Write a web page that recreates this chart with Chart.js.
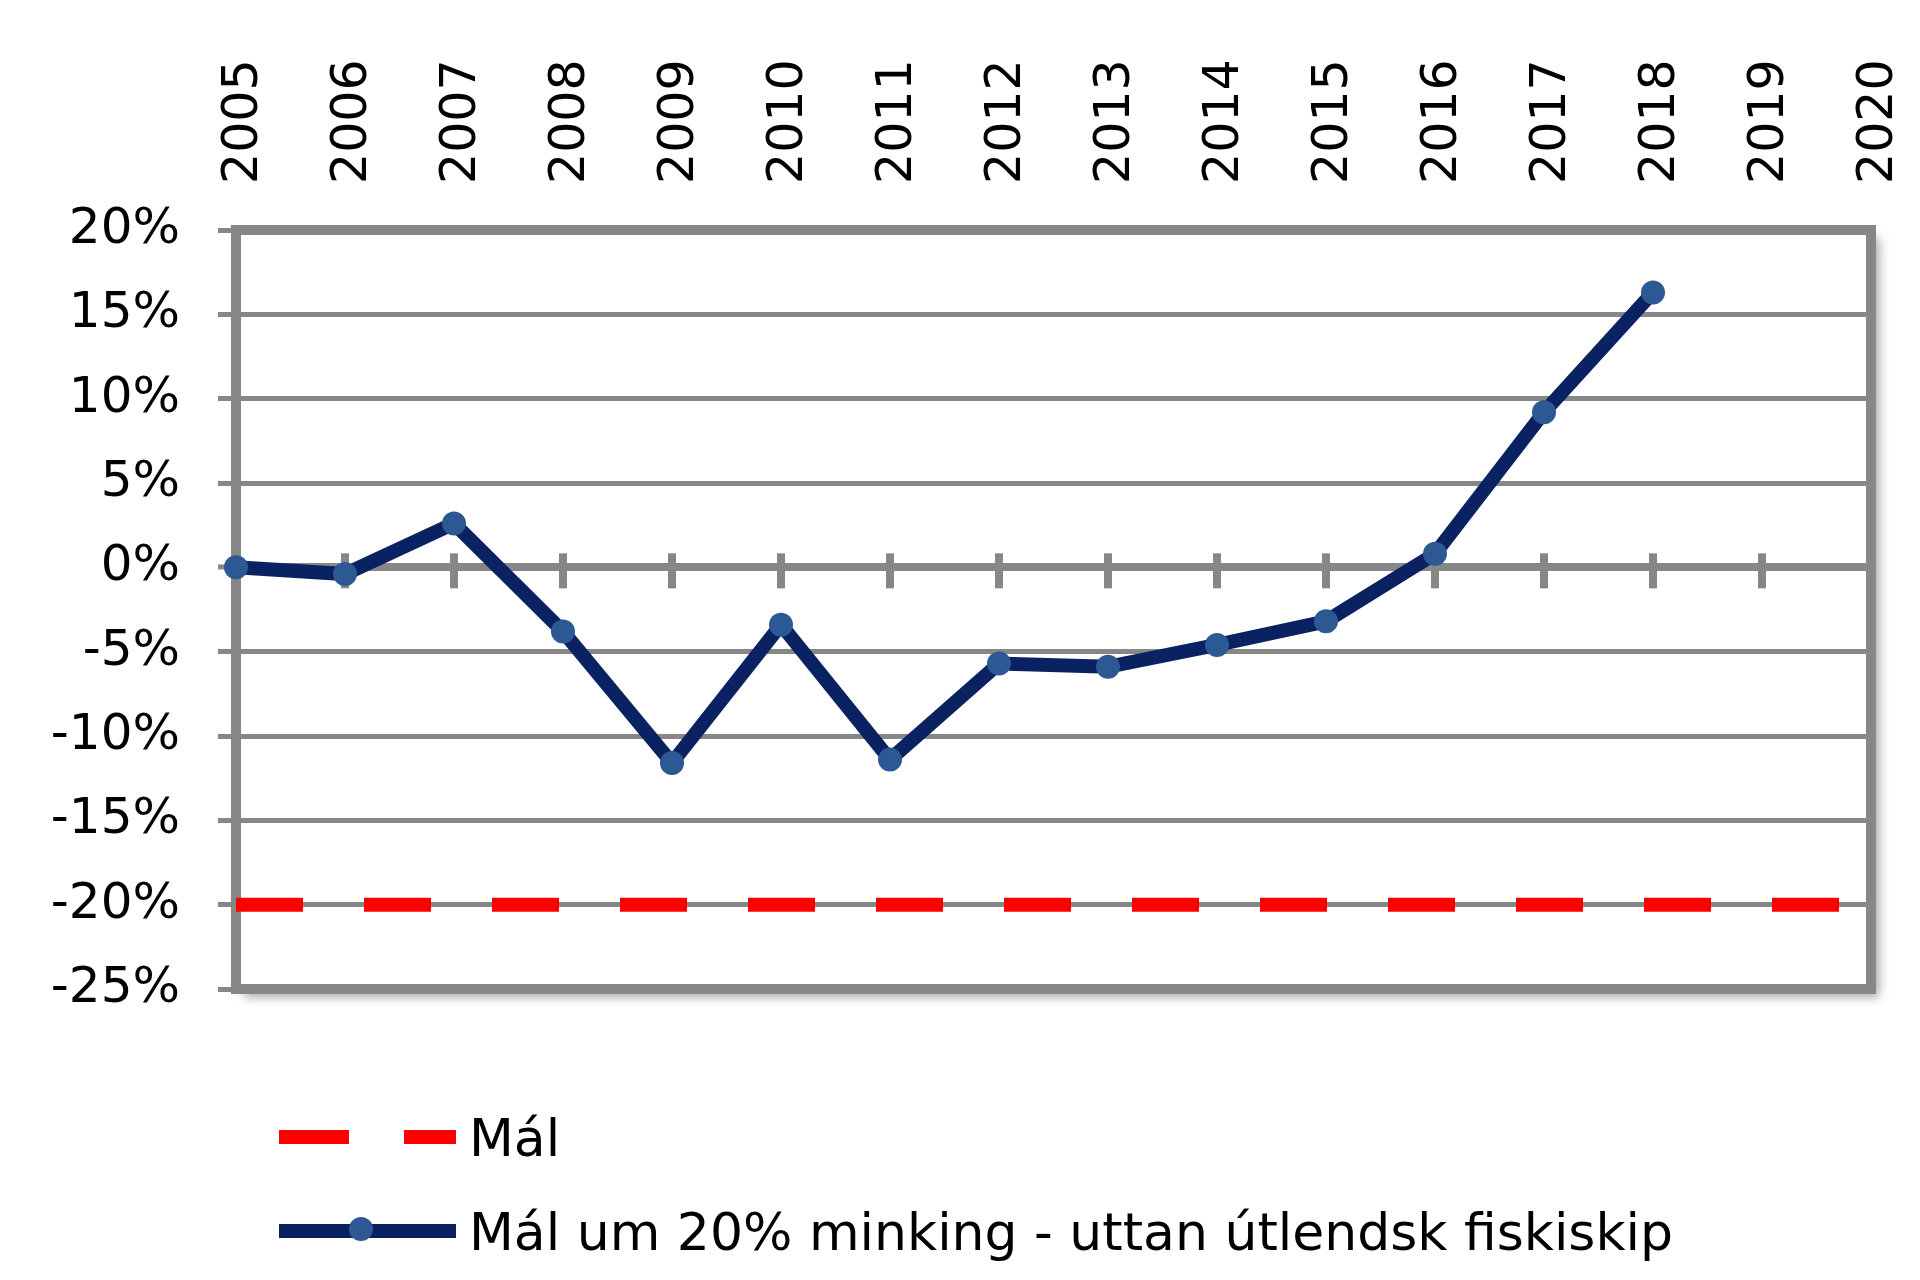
<!DOCTYPE html>
<html>
<head>
<meta charset="utf-8">
<script src="https://cdn.jsdelivr.net/npm/chart.js@4.4.1/dist/chart.umd.min.js"></script>
<style>
  html, body { margin: 0; padding: 0; background: #ffffff; }
  #myChart { display: block; }
</style>
</head>
<body>
<canvas id="myChart" width="1920" height="1280"></canvas>
<script>
const years = ['2005', '2006', '2007', '2008', '2009', '2010', '2011', '2012',
               '2013', '2014', '2015', '2016', '2017', '2018', '2019', '2020'];

// target line, -20%
const malValues = [-20, -20, -20, -20, -20, -20, -20, -20, -20, -20, -20, -20, -20, -20, -20, -20];

// change in % without foreign fishing vessels
const minkingValues = [0.0, -0.4, 2.6, -3.8, -11.6, -3.4, -11.4, -5.7, -5.9, -4.6, -3.2, 0.8, 9.2, 16.3, null, null];

const yTicks = [-25, -20, -15, -10, -5, 0, 5, 10, 15, 20];

const seriesNames = ['Mál', 'Mál um 20% minking - uttan útlendsk fiskiskip'];

const fontName = "'DejaVu Sans', 'Liberation Sans', sans-serif";
const gray = '#878787';
const navy = '#0b2262';
const markerBlue = '#2c5893';
const red = '#ff0000';

// white plot area with soft shadow, then the thick frame and tick marks on the 0% line
const framePlugin = {
    id: 'frame',
    beforeDraw(chart) {
        const c = chart.ctx;
        const a = chart.chartArea;
        c.save();
        c.fillStyle = '#ffffff';
        c.fillRect(0, 0, chart.width, chart.height);
        c.shadowColor = 'rgba(0,0,0,0.35)';
        c.shadowBlur = 10;
        c.shadowOffsetX = 8;
        c.shadowOffsetY = 8;
        c.fillRect(a.left, a.top, a.right - a.left, a.bottom - a.top);
        c.restore();
    },
    beforeDatasetsDraw(chart) {
        const c = chart.ctx;
        const a = chart.chartArea;
        const x = chart.scales.x;
        const y = chart.scales.y;
        const y0 = y.getPixelForValue(0);
        c.save();
        c.fillStyle = gray;
        for (let i = 1; i < years.length - 1; i++) {
            const px = x.getPixelForValue(i);
            c.fillRect(px - 4, y0 - 14, 8, 35);
        }
        c.strokeStyle = gray;
        c.lineWidth = 10;
        c.strokeRect(a.left, a.top, a.right - a.left, a.bottom - a.top);
        c.restore();
    },
    afterDraw(chart) {
        const c = chart.ctx;
        const ds = chart.data.datasets;
        c.save();
        // row 1: dashed red
        c.strokeStyle = ds[0].borderColor;
        c.lineWidth = ds[0].borderWidth;
        c.lineCap = 'butt';
        c.setLineDash([70, 55]);
        c.beginPath();
        c.moveTo(279, 1137);
        c.lineTo(456, 1137);
        c.stroke();
        // row 2: navy line with marker
        c.setLineDash([]);
        c.strokeStyle = ds[1].borderColor;
        c.lineWidth = ds[1].borderWidth;
        c.beginPath();
        c.moveTo(279, 1231);
        c.lineTo(456, 1231);
        c.stroke();
        c.fillStyle = ds[1].pointBackgroundColor;
        c.beginPath();
        c.arc(361, 1229, ds[1].pointRadius, 0, Math.PI * 2);
        c.fill();
        // texts
        c.fillStyle = '#000000';
        c.font = '52px ' + fontName;
        c.textAlign = 'left';
        c.textBaseline = 'alphabetic';
        c.fillText(ds[0].label, 469, 1156);
        c.fillText(ds[1].label, 469, 1250);
        c.restore();
    }
};

const ctx = document.querySelector('#myChart');

const graph = new Chart(ctx, {
    type: 'line',
    data: {
        labels: years,
        datasets: [{
            label: seriesNames[0],
            data: malValues,
            borderColor: red,
            borderWidth: 14,
            borderDash: [67, 61],
            borderCapStyle: 'butt',
            pointRadius: 0,
            fill: false,
            tension: 0
        }, {
            label: seriesNames[1],
            data: minkingValues,
            borderColor: navy,
            borderWidth: 14,
            pointRadius: 12,
            pointBackgroundColor: markerBlue,
            pointBorderWidth: 0,
            fill: false,
            tension: 0
        }]
    },
    options: {
        responsive: false,
        animation: false,
        devicePixelRatio: 1,
        layout: {
            padding: { top: 0, right: 49, bottom: 291, left: 0 }
        },
        plugins: {
            legend: { display: false },
            tooltip: { enabled: false }
        },
        scales: {
            x: {
                type: 'category',
                position: 'top',
                offset: false,
                grid: { display: false, drawTicks: false, tickLength: 0 },
                border: { display: false },
                ticks: {
                    color: '#000000',
                    font: { family: fontName, size: 49 },
                    minRotation: 90,
                    maxRotation: 90,
                    autoSkip: false,
                    padding: 46,
                    labelOffset: 67
                },
                afterFit(scale) {
                    scale.height = 230;
                }
            },
            y: {
                position: 'left',
                min: -25,
                max: 20,
                afterBuildTicks(scale) {
                    scale.ticks = yTicks.map(v => ({ value: v }));
                },
                grid: {
                    color: gray,
                    lineWidth: c => (c.tick && c.tick.value === 0 ? 8 : 5),
                    drawTicks: true,
                    tickLength: 18,
                    tickWidth: 5,
                    tickColor: gray
                },
                border: { display: false },
                ticks: {
                    color: '#000000',
                    font: { family: fontName, size: 50 },
                    padding: 38,
                    callback: v => v + '%'
                },
                afterFit(scale) {
                    scale.width = 236;
                }
            }
        }
    },
    plugins: [framePlugin]
});
</script>
</body>
</html>
